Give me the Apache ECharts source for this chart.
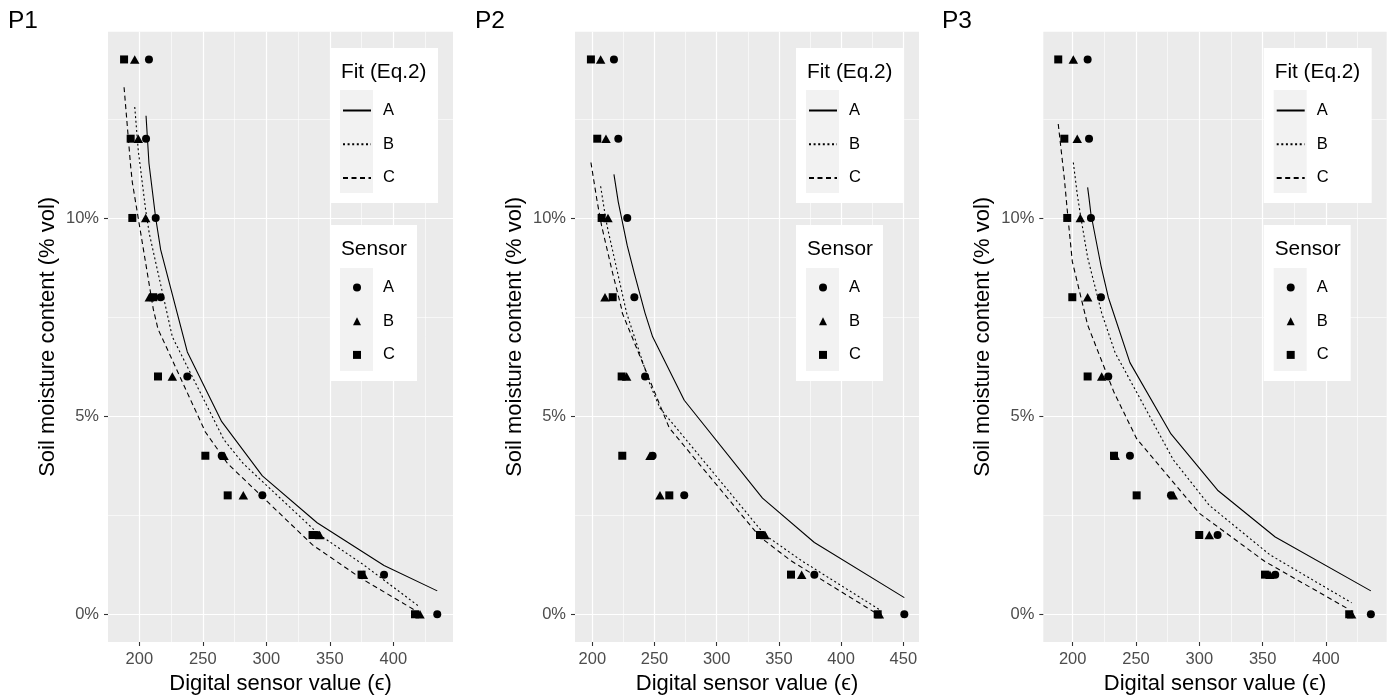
<!DOCTYPE html>
<html><head><meta charset="utf-8">
<script src="https://cdn.jsdelivr.net/npm/echarts@6/dist/echarts.min.js"></script>
<style>html,body{margin:0;padding:0;background:#fff}#c{width:1392px;height:695px}</style>
</head><body><div id="c"></div><script>
// ---------------- DATA ----------------
const moistureLevels = [14, 12, 10, 8, 6, 4, 3, 2, 1, 0]; // % vol
const sensorNames = ['A', 'B', 'C'];
const yMajorTicks = [0, 5, 10];
const yMinorTicks = [2.5, 7.5, 12.5];
const xMajorTicksP1 = [200, 250, 300, 350, 400];
const xMinorTicksP1 = [225, 275, 325, 375, 425];
const xMajorTicksP2 = [200, 250, 300, 350, 400, 450];
const xMinorTicksP2 = [225, 275, 325, 375, 425];
const xMajorTicksP3 = [200, 250, 300, 350, 400];
const xMinorTicksP3 = [225, 275, 325, 375, 425];

// Sensor readings (digital value) at each moisture level
const p1SensorA = [207.6, 205.3, 212.9, 216.8, 237.8, 264.9, 296.9, 340.0, 392.7, 434.6];
const p1SensorB = [196.4, 199.2, 205.0, 207.9, 226.0, 266.7, 281.9, 342.0, 376.5, 421.0];
const p1SensorC = [188.0, 193.2, 194.5, 211.0, 214.7, 252.0, 269.6, 336.4, 375.0, 417.1];
const p2SensorA = [217.4, 220.9, 228.1, 233.8, 242.4, 248.5, 273.9, 336.8, 378.5, 450.8];
const p2SensorB = [206.7, 211.0, 212.6, 210.2, 227.6, 246.4, 254.4, 338.8, 368.3, 430.7];
const p2SensorC = [198.9, 204.0, 207.5, 216.4, 223.6, 224.1, 261.9, 334.8, 359.7, 429.4];
const p3SensorA = [211.8, 212.9, 214.4, 222.3, 228.1, 245.2, 277.6, 314.4, 359.9, 435.4];
const p3SensorB = [200.5, 203.6, 206.0, 211.8, 222.9, 233.5, 279.4, 307.8, 355.7, 420.2];
const p3SensorC = [188.6, 193.4, 195.7, 199.7, 211.8, 232.6, 250.5, 299.9, 351.8, 418.3];

// Fitted moisture (Eq.2) evaluated at each sensor reading above
const p1FitA = [11.38, 12.58, 10.0, 9.2, 6.62, 4.86, 3.49, 2.31, 1.23, 0.59];
const p1FitB = [12.8, 11.7, 10.2, 9.6, 7.0, 4.4, 3.8, 2.0, 1.25, 0.18];
const p1FitC = [13.3, 11.3, 10.9, 7.7, 7.2, 4.6, 3.8, 1.75, 0.9, 0.1];
const p2FitA = [11.1, 10.4, 9.3, 8.6, 7.6, 7.0, 5.4, 2.93, 1.81, 0.42];
const p2FitB = [10.8, 9.95, 9.7, 10.1, 7.6, 5.8, 5.2, 2.0, 1.35, 0.12];
const p2FitC = [11.4, 10.4, 9.8, 8.6, 7.7, 7.6, 4.7, 1.95, 1.35, 0.0];
const p3FitA = [10.77, 10.5, 10.1, 8.8, 8.0, 6.35, 4.55, 3.13, 1.95, 0.59];
const p3FitB = [11.4, 10.6, 10.1, 9.0, 7.6, 6.6, 3.9, 2.75, 1.5, 0.29];
const p3FitC = [12.37, 11.0, 10.2, 8.9, 7.3, 5.6, 4.43, 2.55, 1.33, 0.12];

const panelTags = ['P1', 'P2', 'P3'];
const xAxisTitle = 'Digital sensor value (\u03F5)';
const yAxisTitle = 'Soil moisture content (% vol)';
const fitTitle = 'Fit (Eq.2)';
const sensorTitle = 'Sensor';

// ---------------- LAYOUT ----------------
const FONT = '"Liberation Sans", Arial, sans-serif';
const panelsLayout = [
  { left: 108, right: 453, xMin: 175.35, xMax: 447.0, tagX: 8 },
  { left: 575, right: 919, xMin: 186.1, xMax: 462.6, tagX: 475 },
  { left: 1043.3, right: 1386.7, xMin: 176.8, xMax: 447.9, tagX: 942 }
];
const panelData = [
  { sensors: [p1SensorA, p1SensorB, p1SensorC], fits: [p1FitA, p1FitB, p1FitC], xMajor: xMajorTicksP1, xMinor: xMinorTicksP1 },
  { sensors: [p2SensorA, p2SensorB, p2SensorC], fits: [p2FitA, p2FitB, p2FitC], xMajor: xMajorTicksP2, xMinor: xMinorTicksP2 },
  { sensors: [p3SensorA, p3SensorB, p3SensorC], fits: [p3FitA, p3FitB, p3FitC], xMajor: xMajorTicksP3, xMinor: xMinorTicksP3 }
];
const TOP = 31.7, BOTTOM = 642;
const lineTypes = ['solid', [2, 2.6], [5, 3.5]];
const symbols = ['circle', 'triangle', 'rect'];
const symbolSizes = [8, [9.5, 8.5], 8];

const grids = [], xAxes = [], yAxes = [], series = [], legends = [], graphics = [];

panelsLayout.forEach((L, p) => {
  const D = panelData[p];
  grids.push({ left: L.left, width: L.right - L.left, top: TOP, height: BOTTOM - TOP,
    show: true, backgroundColor: '#EBEBEB', borderWidth: 0, containLabel: false, outerBoundsMode: 'none' });
  xAxes.push({ type: 'value', gridIndex: p, min: L.xMin, max: L.xMax, position: 'bottom',
    name: xAxisTitle, nameLocation: 'middle', nameGap: 30,
    nameTextStyle: { color: '#000', fontSize: 22, fontFamily: FONT },
    axisLine: { show: false, onZero: false },
    axisTick: { show: true, length: 4, customValues: D.xMajor, lineStyle: { color: '#333', width: 1.1 } },
    axisLabel: { show: true, customValues: D.xMajor, margin: 9, color: '#4D4D4D', fontSize: 16.5, fontFamily: FONT },
    splitLine: { show: true, lineStyle: { color: '#FFFFFF', width: 1.2 } } });
  xAxes.push({ type: 'value', gridIndex: p, min: L.xMin, max: L.xMax, position: 'top',
    axisLine: { show: false, onZero: false }, axisLabel: { show: false },
    axisTick: { show: false, customValues: D.xMinor },
    splitLine: { show: true, lineStyle: { color: '#FFFFFF', width: 0.6 } } });
  yAxes.push({ type: 'value', gridIndex: p, min: -0.7, max: 14.7, position: 'left',
    name: yAxisTitle, nameLocation: 'middle', nameGap: 49, nameRotate: 90,
    nameTextStyle: { color: '#000', fontSize: 22, fontFamily: FONT },
    axisLine: { show: false, onZero: false },
    axisTick: { show: true, length: 4, customValues: yMajorTicks, lineStyle: { color: '#333', width: 1.1 } },
    axisLabel: { show: true, customValues: yMajorTicks, margin: 9, color: '#4D4D4D', fontSize: 16.5, fontFamily: FONT,
      formatter: v => v + '%' },
    splitLine: { show: true, lineStyle: { color: '#FFFFFF', width: 1.2 } } });
  yAxes.push({ type: 'value', gridIndex: p, min: -0.7, max: 14.7, position: 'right',
    axisLine: { show: false, onZero: false }, axisLabel: { show: false },
    axisTick: { show: false, customValues: yMinorTicks },
    splitLine: { show: true, lineStyle: { color: '#FFFFFF', width: 0.6 } } });

  sensorNames.forEach((s, k) => {
    const xs = D.sensors[k], fy = D.fits[k];
    const fitPts = xs.map((x, i) => [x, fy[i]]).sort((a, b) => a[0] - b[0]);
    series.push({ type: 'line', name: 'Fit ' + s, xAxisIndex: 2 * p, yAxisIndex: 2 * p,
      data: fitPts, symbol: 'none', showSymbol: false, silent: true, z: 2,
      lineStyle: { color: '#000', width: 1.1, type: lineTypes[k] }, itemStyle: { color: '#000' } });
  });
  sensorNames.forEach((s, k) => {
    const xs = D.sensors[k];
    series.push({ type: 'scatter', name: 'Sensor ' + s, xAxisIndex: 2 * p, yAxisIndex: 2 * p,
      data: xs.map((x, i) => [x, moistureLevels[i]]), symbol: symbols[k], symbolSize: symbolSizes[k],
      itemStyle: { color: '#000', opacity: 1 }, silent: true, z: 3 });
  });

  const R = L.right;
  graphics.push({ type: 'rect', z: 10, shape: { x: R - 123, y: 48, width: 108, height: 155 }, style: { fill: '#fff' } });
  graphics.push({ type: 'rect', z: 10, shape: { x: R - 113, y: 90, width: 33, height: 103 }, style: { fill: '#F2F2F2' } });
  graphics.push({ type: 'text', z: 11, x: R - 112, y: 72, style: { text: fitTitle, fill: '#000', font: '20.8px ' + FONT, verticalAlign: 'middle' } });
  graphics.push({ type: 'rect', z: 10, shape: { x: R - 123, y: 225, width: 87, height: 156 }, style: { fill: '#fff' } });
  graphics.push({ type: 'rect', z: 10, shape: { x: R - 113, y: 268, width: 33, height: 103 }, style: { fill: '#F2F2F2' } });
  graphics.push({ type: 'text', z: 11, x: R - 112, y: 249, style: { text: sensorTitle, fill: '#000', font: '20.8px ' + FONT, verticalAlign: 'middle' } });
  graphics.push({ type: 'text', z: 11, x: L.tagX, y: 21, style: { text: panelTags[p], fill: '#000', font: '24.5px ' + FONT, verticalAlign: 'middle' } });

  legends.push({ show: true, orient: 'vertical', left: R - 111, top: 102, padding: 0, itemGap: 16.7,
    itemWidth: 28, itemHeight: 14, selectedMode: false, z: 20,
    itemStyle: { opacity: 0 },
    data: sensorNames.map(s => 'Fit ' + s), formatter: n => n.slice(-1),
    textStyle: { color: '#000', fontSize: 16.5, fontFamily: FONT, padding: [0, 0, 0, 7] } });
  legends.push({ show: true, orient: 'vertical', left: R - 100, top: 279, padding: 0, itemGap: 16.7,
    itemWidth: 8, itemHeight: 8, selectedMode: false, z: 20,
    data: sensorNames.map(s => 'Sensor ' + s), formatter: n => n.slice(-1),
    textStyle: { color: '#000', fontSize: 16.5, fontFamily: FONT, padding: [0, 0, 0, 17] } });
});

const chart = echarts.init(document.getElementById('c'), null, { renderer: 'canvas' });
chart.setOption({
  animation: false,
  backgroundColor: '#fff',
  grid: grids, xAxis: xAxes, yAxis: yAxes, series: series, legend: legends,
  graphic: { elements: graphics }
});
</script></body></html>
